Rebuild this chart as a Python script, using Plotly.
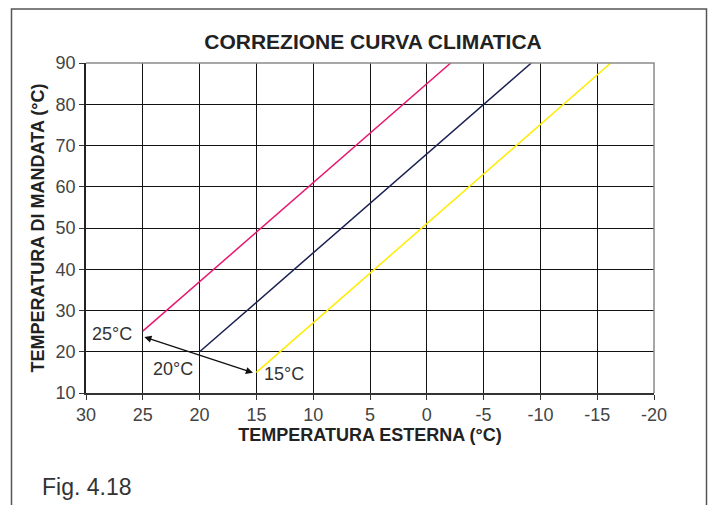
import plotly.graph_objects as go

# Heating curves: flow temperature vs outdoor temperature for three room set-points
outdoor_25 = [25, -2.1]
flow_25 = [25, 90]
outdoor_20 = [20, -9.2]
flow_20 = [20, 90]
outdoor_15 = [15, -16.2]
flow_15 = [15, 90]

x_ticks = [30, 25, 20, 15, 10, 5, 0, -5, -10, -15, -20]
y_ticks = [10, 20, 30, 40, 50, 60, 70, 80, 90]

# Set-point shift arrow (between the 25°C and 15°C curve origins)
arrow_start = (25, 23.7)
arrow_end = (15.3, 14.9)

setpoint_labels = ["25°C", "20°C", "15°C"]
label_x = [27.7, 22.3, 12.6]
label_y = [24.4, 15.9, 14.5]

FONT = "Liberation Sans, Arial, Helvetica, sans-serif"

W, H = 713, 505
L, R, T, B = 86, 59, 63, 112
PW, PH = W - L - R, H - T - B


def px_to_paper_x(px):
    return (px - L) / PW


def px_to_paper_y(py):
    return (H - B - py) / PH


fig = go.Figure()
for xs, ys, col in [
    (outdoor_25, flow_25, "#E8186E"),
    (outdoor_20, flow_20, "#1B2150"),
    (outdoor_15, flow_15, "#FFEC00"),
]:
    fig.add_trace(go.Scatter(x=xs, y=ys, mode="lines",
                             line=dict(color=col, width=1.5),
                             showlegend=False, hoverinfo="skip"))

annotations = [
    dict(x=arrow_end[0], y=arrow_end[1], ax=arrow_start[0], ay=arrow_start[1],
         xref="x", yref="y", axref="x", ayref="y", text="",
         showarrow=True, arrowhead=2, startarrowhead=2, arrowside="end+start",
         arrowsize=1.1, arrowwidth=1.3, arrowcolor="#111",
         standoff=0, startstandoff=0),
]
for t, lx, ly in zip(setpoint_labels, label_x, label_y):
    annotations.append(dict(x=lx, y=ly, xref="x", yref="y", text=t,
                            showarrow=False,
                            font=dict(family=FONT, size=18, color="#333")))

annotations.append(dict(x=px_to_paper_x(40), y=px_to_paper_y(487),
                        xref="paper", yref="paper", xanchor="left",
                        yanchor="middle", text="Fig. 4.18", showarrow=False,
                        font=dict(family=FONT, size=23, color="#333")))

shapes = [
    # outer frame of the figure panel (open at the bottom)
    dict(type="path", xref="paper", yref="paper",
         path=(f"M {px_to_paper_x(11.5)} {px_to_paper_y(520)} "
               f"L {px_to_paper_x(11.5)} {px_to_paper_y(9)} "
               f"L {px_to_paper_x(706.5)} {px_to_paper_y(9)} "
               f"L {px_to_paper_x(706.5)} {px_to_paper_y(520)}"),
         line=dict(color="#555", width=1.5)),
    # grey top / right border of plotting area
    dict(type="path", xref="paper", yref="paper", path="M 0 1 L 1 1 L 1 0",
         line=dict(color="#8a8a8a", width=1.5)),
]

fig.update_layout(
    width=W, height=H,
    margin=dict(l=L, r=R, t=T, b=B, pad=0),
    paper_bgcolor="white", plot_bgcolor="white",
    title=dict(text="<b>CORREZIONE CURVA CLIMATICA</b>",
               x=(373 - L) / PW, xref="paper", xanchor="center",
               y=1 - 42 / H, yref="container", yanchor="middle",
               font=dict(family=FONT, size=21, color="#222")),
    annotations=annotations,
    shapes=shapes,
    xaxis=dict(range=[30, -20], tickvals=x_ticks, ticktext=[str(v) for v in x_ticks],
               showgrid=True, gridcolor="#111", gridwidth=1,
               showline=True, linecolor="#333", linewidth=1.5,
               ticks="outside", ticklen=5, tickcolor="#333",
               zeroline=False,
               tickfont=dict(family=FONT, size=18, color="#444"),
               title=dict(text="<b>TEMPERATURA ESTERNA (°C)</b>", standoff=4,
                          font=dict(family=FONT, size=18, color="#222"))),
    yaxis=dict(range=[10, 90], tickvals=y_ticks, ticktext=[str(v) for v in y_ticks],
               showgrid=True, gridcolor="#111", gridwidth=1,
               showline=True, linecolor="#222", linewidth=1.5,
               ticks="outside", ticklen=5, tickcolor="#333",
               zeroline=False,
               tickfont=dict(family=FONT, size=18, color="#444"),
               title=dict(text="<b>TEMPERATURA DI MANDATA (°C)</b>", standoff=6,
                          font=dict(family=FONT, size=18, color="#222"))),
)

fig.write_html("out.html")
